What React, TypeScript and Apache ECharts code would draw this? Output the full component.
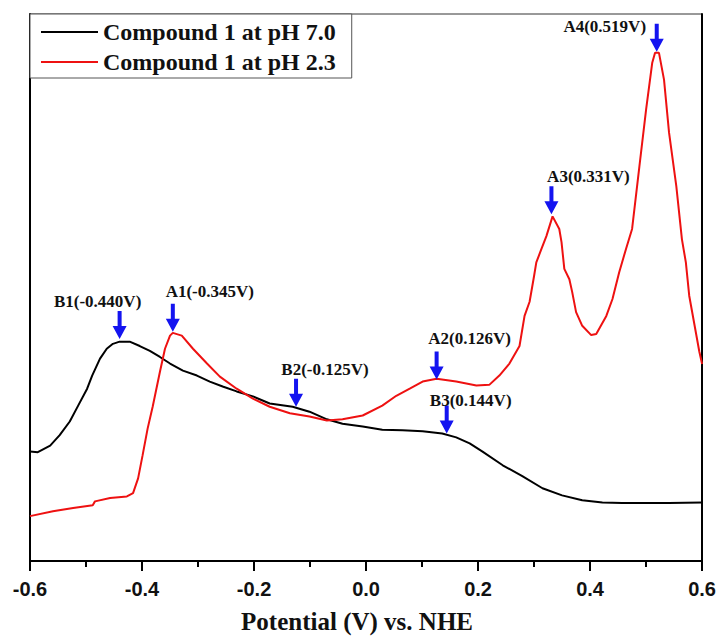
import React, { useEffect, useRef } from "react";
import * as echarts from "echarts";

// pH 7.0 (black) curve
const blackX = [-0.600,-0.586,-0.564,-0.547,-0.529,-0.514,-0.498,-0.489,-0.475,-0.463,-0.452,-0.440,-0.422,-0.404,-0.386,-0.368,-0.350,-0.327,-0.302,-0.279,-0.256,-0.231,-0.202,-0.172,-0.131,-0.101,-0.070,-0.042,-0.006,0.029,0.065,0.101,0.136,0.161,0.185,0.208,0.244,0.279,0.315,0.350,0.386,0.422,0.457,0.493,0.541,0.600];
const blackY = [20.0,19.9,21.1,23.0,25.5,28.4,31.5,33.9,37.0,38.8,39.7,40.1,40.1,39.3,38.4,37.3,36.1,34.8,33.9,32.8,31.9,31.0,30.1,28.8,28.2,27.3,25.9,25.1,24.6,24.0,23.9,23.7,23.3,22.6,21.5,20.0,17.5,15.5,13.3,12.0,11.1,10.7,10.6,10.6,10.6,10.7];

// pH 2.3 (red) curve
const redX = [-0.600,-0.559,-0.523,-0.488,-0.484,-0.457,-0.427,-0.416,-0.407,-0.399,-0.390,-0.381,-0.368,-0.359,-0.350,-0.345,-0.329,-0.309,-0.284,-0.261,-0.231,-0.202,-0.172,-0.136,-0.101,-0.070,-0.042,-0.006,0.029,0.054,0.078,0.101,0.126,0.161,0.197,0.220,0.238,0.256,0.274,0.283,0.292,0.300,0.304,0.313,0.322,0.333,0.345,0.349,0.354,0.363,0.368,0.375,0.386,0.402,0.411,0.429,0.440,0.452,0.464,0.475,0.488,0.500,0.511,0.516,0.523,0.532,0.541,0.554,0.564,0.571,0.577,0.595,0.600];
const redY = [8.2,9.1,9.7,10.2,10.9,11.5,11.8,12.4,15.1,19.3,24.2,28.2,34.6,38.8,41.2,41.7,41.2,38.8,36.1,33.7,31.5,29.7,28.2,27.0,26.4,25.7,25.9,26.6,28.4,30.2,31.5,32.8,33.3,32.8,32.1,32.2,33.9,36.1,39.3,44.8,47.4,52.1,54.6,57.0,59.4,63.0,60.7,58.3,53.4,51.5,49.2,45.5,43.0,41.3,41.5,44.8,47.9,52.8,57.0,60.7,72.1,82.5,91.1,92.9,92.9,88.0,78.3,68.5,58.8,54.6,48.5,38.3,36.0];

const seriesNames = ["Compound 1 at pH 7.0", "Compound 1 at pH 2.3"];

// peak annotations
const annotLabels = ["B1(-0.440V)", "A1(-0.345V)", "B2(-0.125V)", "A2(0.126V)", "B3(0.144V)", "A3(0.331V)", "A4(0.519V)"];
const annotX = [-0.440, -0.345, -0.125, 0.126, 0.144, 0.331, 0.519];
const annotTipY = [40.6, 41.9, 28.2, 33.2, 23.3, 63.4, 93.1];
const annotSeries = [0, 1, 0, 1, 0, 1, 1];

const xTicksMin = -0.6;
const xTicksMax = 0.6;
const xTickStep = 0.2;

const labelOffsets: number[][] = [[-22, 0], [37, -3], [29, 0], [33, -4], [24, 4], [37, -1], [-52, 12]];

const SERIF = "'Liberation Serif', 'Times New Roman', serif";
const SANS = "'Liberation Sans', Arial, sans-serif";
const ARROW = "path://M5 0 L9 0 L9 15 L14 15 L7 28 L0 15 L5 15 Z";

export default function App() {
  const ref = useRef<HTMLDivElement>(null);
  useEffect(() => {
    if (!ref.current) return;
    const chart = echarts.init(ref.current, null, { renderer: "svg" });
    const mk = (si: number) =>
      annotLabels
        .map((lab, i) => ({ lab, i }))
        .filter((d) => annotSeries[d.i] === si)
        .map(({ lab, i }) => ({
          coord: [annotX[i], annotTipY[i]],
          symbol: ARROW,
          symbolSize: [14, 28],
          symbolOffset: [0, -14],
          itemStyle: { color: "#1414f0" },
          label: {
            show: true,
            formatter: lab,
            position: "top",
            distance: 0,
            offset: labelOffsets[i],
            color: "#111",
            fontFamily: SERIF,
            fontWeight: "bold",
            fontSize: 17,
            lineHeight: 18,
          },
        }));
    const mkSeries = (si: number, xs: number[], ys: number[], color: string) => ({
      name: seriesNames[si],
      type: "line",
      data: xs.map((x, i) => [x, ys[i]]),
      symbol: "none",
      lineStyle: { color, width: 2 },
      itemStyle: { color },
      z: si === 1 ? 3 : 2,
      markPoint: { silent: true, animation: false, data: mk(si) },
    });
    chart.setOption({
      animation: false,
      backgroundColor: "#fff",
      grid: { left: 30, right: 16, top: 14, bottom: 76, show: true, borderColor: "#333", borderWidth: 1, backgroundColor: "transparent" },
      legend: {
        orient: "vertical",
        left: 30,
        top: 14,
        data: seriesNames,
        icon: "rect",
        itemWidth: 57,
        itemHeight: 2,
        itemGap: 4,
        padding: [5, 16, 3, 11],
        borderColor: "#555",
        borderWidth: 1,
        backgroundColor: "#fff",
        textStyle: { fontFamily: SERIF, fontWeight: "bold", fontSize: 24, lineHeight: 26, color: "#111" },
      },
      xAxis: {
        type: "value",
        min: xTicksMin,
        max: xTicksMax,
        interval: xTickStep,
        name: "Potential (V) vs. NHE",
        nameLocation: "middle",
        nameGap: 48,
        nameTextStyle: { fontFamily: SERIF, fontWeight: "bold", fontSize: 25, color: "#111", padding: [0, 18, 0, 0] },
        axisLine: { onZero: false, lineStyle: { color: "#000", width: 2 } },
        axisTick: { length: 10, lineStyle: { color: "#000", width: 2 } },
        minorTick: { show: true, splitNumber: 2, length: 6, lineStyle: { color: "#000", width: 2 } },
        splitLine: { show: false },
        axisLabel: {
          margin: 18,
          fontFamily: SANS,
          fontWeight: "bold",
          fontSize: 20,
          color: "#111",
          formatter: (v: number) => v.toFixed(1),
        },
      },
      yAxis: [
        {
          type: "value",
          min: 0,
          max: 100,
          position: "left",
          axisLine: { show: true, onZero: false, lineStyle: { color: "#000", width: 2 } },
          axisTick: { show: false },
          axisLabel: { show: false },
          splitLine: { show: false },
        },
        {
          type: "value",
          min: 0,
          max: 100,
          position: "right",
          axisLine: { show: true, onZero: false, lineStyle: { color: "#000", width: 2 } },
          axisTick: { show: false },
          axisLabel: { show: false },
          splitLine: { show: false },
        },
      ],
      series: [mkSeries(0, blackX, blackY, "#000"), mkSeries(1, redX, redY, "#ee1111")],
    });
    return () => chart.dispose();
  }, []);
  return <div ref={ref} style={{ position: "fixed", left: 0, top: 0, width: 719, height: 639 }} />;
}
